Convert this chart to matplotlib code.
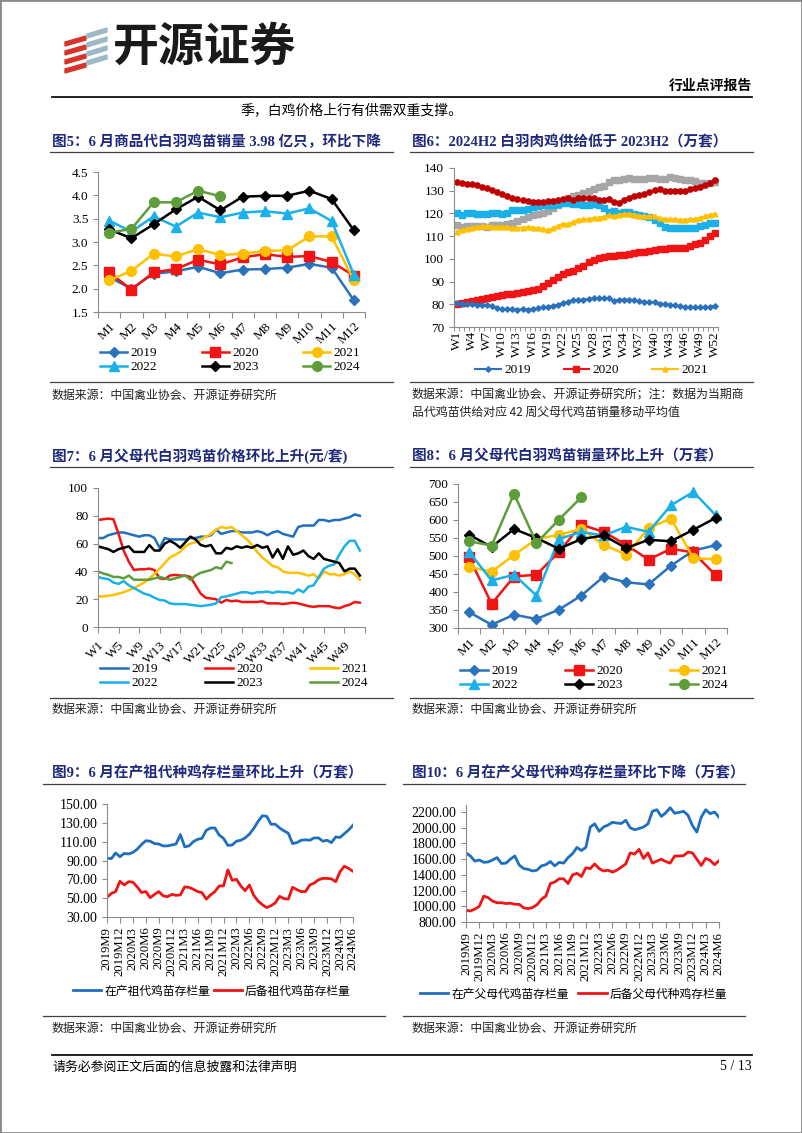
import matplotlib
matplotlib.use('Agg')
import matplotlib.pyplot as plt
from matplotlib.lines import Line2D
from matplotlib.patches import Rectangle, Polygon
from matplotlib.ticker import FormatStrFormatter
import numpy as np

W, H = 802, 1133
plt.rcParams['font.family'] = ['Liberation Serif', 'Noto Sans CJK SC', 'DejaVu Sans']
CJK = ['Noto Sans CJK SC', 'DejaVu Sans']
MIX = ['Liberation Serif', 'Noto Sans CJK SC']
NAVY = '#1F2A7C'
AXC = '#8C8C8C'

C19, C20, C21 = '#2A72BC', '#F01414', '#FFC000'
C22, C23, C24 = '#1AB0EA', '#000000', '#5E9E3A'

# ---------------- data ----------------
# fig5: commercial chick sales (亿只), monthly
months = ['M1', 'M2', 'M3', 'M4', 'M5', 'M6', 'M7', 'M8', 'M9', 'M10', 'M11', 'M12']
f5_2019 = [2.25, 2.0, 2.32, 2.37, 2.47, 2.33, 2.41, 2.42, 2.45, 2.53, 2.45, 1.75]
f5_2020 = [2.35, 1.98, 2.35, 2.42, 2.62, 2.52, 2.67, 2.74, 2.68, 2.70, 2.57, 2.28]
f5_2021 = [2.18, 2.38, 2.75, 2.69, 2.85, 2.72, 2.75, 2.81, 2.82, 3.12, 3.12, 2.18]
f5_2022 = [3.46, 3.22, 3.55, 3.33, 3.63, 3.53, 3.63, 3.66, 3.61, 3.72, 3.45, 2.30]
f5_2023 = [3.27, 3.08, 3.38, 3.70, 3.97, 3.68, 3.97, 3.99, 3.99, 4.10, 3.92, 3.25]
f5_2024 = [3.20, 3.28, 3.85, 3.85, 4.10, 3.98]

# fig6: weekly broiler supply (万套)
f6_2019 = [80.5, 80.2, 80.0, 80.0, 79.8, 79.6, 79.5, 79.3, 78.2, 77.9,
           77.8, 77.8, 77.7, 77.8, 77.7, 78.0, 78.2, 78.6, 79.0, 79.3,
           79.8, 80.5, 81.2, 81.8, 81.9, 82.1, 82.3, 82.6, 82.7, 82.6,
           82.6, 81.6, 81.9, 82.1, 82.0, 81.8, 81.3, 81.1, 81.0, 80.8,
           80.2, 80.1, 79.9, 79.5, 79.1, 78.8, 78.7, 78.6, 78.6, 78.6,
           79.0, 79.4]
f6_2020 = [80.0, 80.6, 81.2, 81.6, 81.9, 82.2, 82.7, 83.1, 83.5, 84.0,
           84.4, 84.6, 84.9, 85.3, 85.7, 86.2, 86.8, 87.9, 89.3, 90.8,
           91.8, 93.5, 94.4, 94.6, 95.9, 97.0, 98.4, 99.7, 100.4, 100.8,
           101.4, 101.2, 101.5, 101.9, 102.2, 102.5, 103.0, 103.2, 103.5, 104.0,
           104.4, 104.5, 104.7, 105.0, 104.9, 104.9, 105.8, 106.6, 107.1, 108.3,
           110.2, 111.6]
f6_2021 = [112.0, 112.6, 113.2, 113.7, 114.0, 114.3, 114.5, 114.2, 113.9, 114.1,
           113.9, 113.6, 113.6, 113.8, 114.0, 113.8, 113.4, 113.2, 112.6, 113.5,
           114.5, 115.5, 115.3, 116.3, 117.3, 117.4, 117.6, 118.0, 118.2, 118.5,
           119.3, 118.8, 119.4, 119.8, 119.9, 119.5, 119.0, 118.9, 118.7, 118.8,
           118.0, 117.6, 117.5, 117.5, 117.2, 117.3, 117.5, 117.6, 118.2, 118.8,
           119.5, 119.8]
f6_2022 = [120.0, 119.4, 120.4, 120.1, 119.8, 119.8, 119.8, 120.0, 120.0, 119.9,
           120.2, 121.3, 121.5, 121.6, 122.0, 122.8, 123.3, 123.6, 123.8, 123.7,
           124.0, 124.6, 124.4, 124.0, 124.0, 123.8, 123.9, 124.0, 123.8, 122.5,
           120.8, 121.2, 120.3, 120.7, 120.5, 119.8, 119.2, 118.7, 118.4, 117.2,
           115.9, 114.2, 113.5, 113.7, 113.6, 113.4, 113.5, 113.8, 114.5, 115.0,
           115.8, 115.8]
f6_2023 = [115.0, 114.0, 114.3, 114.6, 114.5, 114.4, 114.1, 114.9, 114.9, 114.7,
           115.4, 116.0, 116.8, 117.5, 118.3, 119.2, 119.7, 120.3, 121.0, 122.5,
           123.8, 125.5, 126.8, 127.6, 128.0, 128.8, 129.8, 130.8, 131.5, 132.0,
           134.0, 134.5, 134.6, 135.3, 135.4, 135.3, 135.2, 135.2, 135.4, 135.4,
           135.0, 135.1, 135.9, 135.8, 135.0, 134.6, 134.6, 134.2, 133.6, 133.3,
           133.3, 134.0]
f6_2024 = [133.8, 133.6, 132.8, 132.9, 132.3, 131.8, 131.0, 130.4, 129.6, 128.4,
           127.6, 127.0, 126.3, 125.8, 125.5, 124.9, 125.1, 124.9, 125.4, 125.6,
           125.8, 126.3, 127.0, 126.1, 126.9, 126.8, 126.6, 126.8, 126.0, 126.0,
           126.3, 125.0, 124.8, 126.0, 126.8, 127.8, 128.2, 128.5, 129.3, 130.5,
           130.6, 130.0, 130.0, 129.9, 130.0, 129.9, 130.9, 131.3, 131.8, 132.5,
           133.5, 134.5]
weeks6 = ['W%d' % w for w in range(1, 53, 3)]

# fig7: parent stock chick price (元/套), weekly
f7_2019 = [64, 64, 66, 67, 68, 68, 67, 66, 65, 66, 66, 64, 57,
           64, 63, 63, 63, 63, 64, 64, 65, 65, 66, 70,
           67, 68, 69, 69, 68, 68, 68, 69, 68, 66, 68, 69, 67, 66, 65,
           72, 73, 73, 73, 77, 77, 76, 77, 77, 78, 79, 81, 80]
f7_2020 = [77, 77.5, 78, 77.5, 67, 55, 47, 41, 41.5, 41.5,
           42, 41, 35, 34.5, 37, 37.5, 37, 37, 36, 30,
           24, 21, 20.5, 20, 17.5, 19.5, 18.5, 19, 18, 18,
           18, 18, 18.5, 17, 17, 17, 16.5, 17, 17.5, 17,
           16, 15, 14.5, 15, 15, 15, 14, 13.5, 15, 16,
           18, 17.5]
f7_2021 = [22, 22, 22.5, 23, 24, 25, 26.5, 28, 30, 32,
           35, 38, 42, 46, 50, 52, 54, 58, 60, 61,
           63, 65, 67, 70, 72, 71, 72, 69, 66, 63,
           59, 54, 50, 47, 44, 43, 40, 39, 39, 39,
           38, 37, 38, 35, 40, 38, 38, 37, 38, 40,
           38, 34]
f7_2022 = [36, 35, 34.5, 32, 31, 33, 30, 28, 26, 24,
           23, 21, 19.5, 19, 17, 16.5, 16.5, 16.5, 16, 15.5,
           15, 15.5, 16, 17, 21.5, 22, 23, 24, 25, 25,
           24, 25, 25, 25.5, 24.5, 25.5, 25, 25, 24, 27,
           25, 29, 30, 36, 42, 44, 45, 52, 58, 62,
           62, 55]
f7_2023 = [58, 57, 56, 54, 56, 57, 58, 54, 54, 54,
           59, 55, 55, 60, 62, 60, 57, 61, 65, 63,
           59, 58, 59, 53, 53, 57, 56, 58, 57, 58,
           57, 59, 57, 58, 50, 56, 49, 58, 52, 53,
           55, 51, 49, 53, 49, 48, 47, 46, 40, 42,
           42, 37]
f7_2024 = [40, 38.5, 37.5, 36, 36, 35, 37, 34, 34, 34,
           34, 35, 36, 35, 34, 35, 36, 37, 34, 37,
           39, 40, 41, 43, 42, 47, 46]
weeks7 = ['W%d' % w for w in range(1, 50, 4)]

# fig8: parent stock chick sales (万套), monthly
f8_2019 = [344, 309, 337, 325, 351, 390, 443, 427, 421, 473, 515, 530]
f8_2020 = [496, 367, 443, 448, 511, 587, 567, 531, 490, 520, 510, 446]
f8_2021 = [470, 456, 503, 547, 559, 575, 531, 504, 577, 604, 494, 491]
f8_2022 = [511, 432, 448, 390, 547, 567, 557, 581, 567, 641, 678, 613]
f8_2023 = [559, 525, 575, 550, 520, 547, 557, 522, 545, 541, 573, 606]
f8_2024 = [541, 529, 673, 536, 601, 663]

# fig9 / fig10: monthly inventory 2019M9 - 2024M6
inv_ticks = ['2019M9', '2019M12', '2020M3', '2020M6', '2020M9', '2020M12',
             '2021M3', '2021M6', '2021M9', '2021M12', '2022M3', '2022M6',
             '2022M9', '2022M12', '2023M3', '2023M6', '2023M9', '2023M12',
             '2024M3', '2024M6']
gp_prod = [92.5, 92, 98, 94, 97.5, 97, 98.5, 102, 107, 111,
           110.5, 108, 107.5, 105.5, 105.5, 106.5, 107.5, 117.5, 104.5, 105.5,
           110, 112.5, 113.5, 122, 124.5, 124.5, 117, 113.5, 106, 106.5,
           110.5, 111.5, 114, 118, 124, 131.5, 137.5, 137, 128.5, 128.5,
           124.5, 121.5, 119, 108, 109, 111.5, 112, 111.5, 114, 114,
           110.5, 111.5, 109, 115, 114.5, 118.5, 122.5, 127.5]
gp_back = [51, 55, 57, 68, 64, 67.5, 67, 62, 56, 57,
           50.5, 54, 57, 52.5, 51.5, 54, 53, 53.5, 62, 61.5,
           59.5, 57, 56, 49, 53.5, 57, 63, 63, 80, 69,
           70, 63, 58, 64, 53, 47, 43, 40, 42, 45,
           52, 49.5, 49, 61.5, 59, 57, 57, 64, 66, 69.5,
           71, 71, 70.5, 67.5, 78, 84, 81.5, 78.5]
ps_prod = [1680, 1640, 1575, 1590, 1560, 1565, 1590, 1620, 1545, 1550,
           1600, 1640, 1525, 1480, 1470, 1450, 1460, 1515, 1530, 1570,
           1515, 1560, 1550, 1620, 1670, 1750, 1710, 1750, 2010, 2050,
           1955, 2010, 2035, 2070, 2060, 2055, 2095, 2000, 1975, 1990,
           2010, 2050, 2210, 2230, 2145, 2190, 2255, 2185, 2195, 2210,
           2160, 2030, 1945, 2135, 2230, 2180, 2200, 2135]
ps_back = [950, 940, 965, 1000, 1130, 1110, 1065, 1045, 1045, 1035,
           1040, 1025, 1025, 980, 970, 985, 1020, 1090, 1130, 1290,
           1310, 1350, 1350, 1290, 1400, 1420, 1380, 1490, 1480, 1540,
           1480, 1450, 1460, 1435, 1460, 1500, 1540, 1680, 1665, 1725,
           1610, 1680, 1550, 1575, 1600, 1570, 1550, 1640, 1640, 1645,
           1690, 1680, 1600, 1520, 1610, 1585, 1530, 1580]

# ---------------- helpers ----------------
fig = plt.figure(figsize=(W / 100, H / 100), dpi=100)


def px_axes(l, t, r, b):
    return fig.add_axes([l / W, 1 - b / H, (r - l) / W, (b - t) / H])


def ftext(x, y, s, **kw):
    kw.setdefault('va', 'center')
    fig.text(x / W, 1 - y / H, s, **kw)


def hline(x0, x1, y, color='#404040', lw=0.9):
    fig.add_artist(Line2D([x0 / W, x1 / W], [1 - y / H, 1 - y / H], color=color, lw=lw))


def style(ax):
    for s in ['top', 'right']:
        ax.spines[s].set_visible(False)
    for s in ['left', 'bottom']:
        ax.spines[s].set_color(AXC)
        ax.spines[s].set_linewidth(0.8)
    ax.tick_params(colors=AXC, labelcolor='black', labelsize=9.5, length=3.5, width=0.8)


def year_legend(handles, x, y, colsp, hlen=2.05):
    fig.legend(handles, [h.get_label() for h in handles], loc='upper left',
               bbox_to_anchor=(x / W, 1 - y / H), ncol=3, frameon=False,
               borderpad=0, borderaxespad=0, handlelength=hlen, handletextpad=0.25,
               columnspacing=colsp, labelspacing=0.15,
               prop={'family': 'Liberation Serif', 'size': 9.5})


def title(x, y, s, ux0, ux1, uy):
    ftext(x, y, s, fontsize=10.5, fontweight='bold', color=NAVY, family=MIX)
    hline(ux0, ux1, uy)


def source(x, y, s):
    ftext(x, y, s, fontsize=8.6, family=CJK, color='#222222')


# ---------------- page furniture ----------------
fig.add_artist(Rectangle((0, 0), 1, 1, transform=fig.transFigure, fill=False,
                         edgecolor='#8A8A8A', lw=2))
# logo mark
for i in range(4):
    y0 = 36 + i * 9
    pts = [(65, y0 + 6), (86, y0), (86, y0 + 4), (65, y0 + 10)]
    fig.add_artist(Polygon([(px / W, 1 - py / H) for px, py in pts], closed=True,
                           color='#D8352A', transform=fig.transFigure))
for i in range(4):
    y0 = 28 + i * 9
    pts = [(87, y0 + 6), (107, y0), (107, y0 + 4), (87, y0 + 10)]
    fig.add_artist(Polygon([(px / W, 1 - py / H) for px, py in pts], closed=True,
                           color='#9DB8C6', transform=fig.transFigure))
ftext(112, 48, '开源证券', fontsize=33, fontweight='heavy', family=CJK, color='#1A1A1A')
ftext(752, 86, '行业点评报告', fontsize=10, fontweight='bold', family=CJK, ha='right')
hline(52, 752, 97, color='#111111', lw=1.3)
ftext(240, 110, '季，白鸡价格上行有供需双重支撑。', fontsize=10, family=CJK)
hline(52, 752, 1055, color='#111111', lw=1.3)
ftext(52, 1067, '请务必参阅正文后面的信息披露和法律声明', fontsize=9.3, family=CJK)
ftext(752, 1067, '5 / 13', fontsize=10, family='Liberation Serif', ha='right')

# ---------------- fig 5 ----------------
title(52, 142, '图5：6 月商品代白羽鸡苗销量 3.98 亿只，环比下降', 50, 393, 152)
ax = px_axes(98, 172, 365, 312)
style(ax)
hs = []
for vals, lab, c, m, ms in [(f5_2019, '2019', C19, 'D', 5), (f5_2020, '2020', C20, 's', 7),
                            (f5_2021, '2021', C21, 'o', 7), (f5_2022, '2022', C22, '^', 7),
                            (f5_2023, '2023', C23, 'D', 5.5), (f5_2024, '2024', C24, 'o', 7)]:
    h, = ax.plot(range(len(vals)), vals, color=c, marker=m, ms=ms, lw=1.8, label=lab)
    hs.append(h)
ax.set_xlim(-0.5, 11.5)
ax.set_ylim(1.5, 4.5)
ax.set_yticks(np.arange(1.5, 4.51, 0.5))
ax.yaxis.set_major_formatter(FormatStrFormatter('%.1f'))
ax.set_xticks(range(12))
ax.set_xticklabels(months, rotation=45, ha='right', rotation_mode='anchor')
ax.tick_params(axis='x', length=0, pad=6)
ax.set_xticks(np.arange(-0.5, 12, 1), minor=True)
ax.tick_params(axis='x', which='minor', length=4, color=AXC, width=0.8)
year_legend([hs[0], hs[3], hs[1], hs[4], hs[2], hs[5]], 100, 347, 3.4)
hline(50, 393, 382)
source(52, 395, '数据来源：中国禽业协会、开源证券研究所')

# ---------------- fig 6 ----------------
title(412, 142, '图6：2024H2 白羽肉鸡供给低于 2023H2（万套）', 410, 753, 152)
ax = px_axes(454, 168, 718, 327)
style(ax)
hs = []
for vals, lab, c, m, ms in [(f6_2023, '2023', '#A6A6A6', 's', 3.8), (f6_2022, '2022', C22, 's', 3.8),
                            (f6_2021, '2021', C21, '^', 3.5), (f6_2024, '2024', '#C00000', 'o', 3.8),
                            (f6_2020, '2020', C20, 's', 3.8), (f6_2019, '2019', C19, 'D', 2.8)]:
    h, = ax.plot(range(len(vals)), vals, color=c, marker=m, ms=ms, lw=1.5, label=lab)
    hs.append(h)
ax.set_xlim(-0.5, 51.5)
ax.set_ylim(70, 140)
ax.set_yticks(range(70, 141, 10))
ax.set_xticks(range(0, 52, 3))
ax.set_xticklabels(weeks6, rotation=90, ha='center', va='top')
ax.tick_params(axis='x', length=0, pad=3)
ax.set_xticks(np.arange(-0.5, 52, 1), minor=True)
ax.tick_params(axis='x', which='minor', length=3, color=AXC, width=0.7)
fig.legend([hs[5], hs[4], hs[2]], ['2019', '2020', '2021'], loc='upper left',
           bbox_to_anchor=(475 / W, 1 - 364 / H), ncol=3, frameon=False, borderpad=0,
           borderaxespad=0, handlelength=1.95, handletextpad=0.25, columnspacing=2.5,
           prop={'family': 'Liberation Serif', 'size': 9.5})
hline(410, 753, 382)
source(412, 395, '数据来源：中国禽业协会、开源证券研究所；注：数据为当期商')
source(412, 412, '品代鸡苗供给对应 42 周父母代鸡苗销量移动平均值')

# ---------------- fig 7 ----------------
title(52, 456, '图7：6 月父母代白羽鸡苗价格环比上升(元/套)', 50, 393, 467)
ax = px_axes(98, 488, 365, 627)
style(ax)
hs = []
for vals, lab, c in [(f7_2019, '2019', '#1F6FBF'), (f7_2020, '2020', C20),
                     (f7_2021, '2021', C21), (f7_2022, '2022', C22),
                     (f7_2023, '2023', C23), (f7_2024, '2024', C24)]:
    h, = ax.plot(range(len(vals)), vals, color=c, lw=1.8, label=lab)
    hs.append(h)
ax.set_xlim(0, 52)
ax.set_ylim(0, 100)
ax.set_yticks(range(0, 101, 20))
ax.set_xticks(range(0, 49, 4))
ax.set_xticklabels(weeks7, rotation=45, ha='right', rotation_mode='anchor')
ax.tick_params(axis='x', length=4, pad=5)
ax.set_xticks([52], minor=True)
ax.tick_params(axis='x', which='minor', length=4, color=AXC, width=0.8)
year_legend([hs[0], hs[3], hs[1], hs[4], hs[2], hs[5]], 100, 663, 3.6, hlen=2.1)
hline(50, 393, 698)
source(52, 709, '数据来源：中国禽业协会、开源证券研究所')

# ---------------- fig 8 ----------------
title(412, 456, '图8：6 月父母代白羽鸡苗销量环比上升（万套）', 410, 753, 467)
ax = px_axes(458, 484, 727, 628)
style(ax)
hs = []
for vals, lab, c, m, ms in [(f8_2019, '2019', C19, 'D', 5), (f8_2020, '2020', C20, 's', 7),
                            (f8_2021, '2021', C21, 'o', 7), (f8_2022, '2022', C22, '^', 7),
                            (f8_2023, '2023', C23, 'D', 5.5), (f8_2024, '2024', C24, 'o', 7)]:
    h, = ax.plot(range(len(vals)), vals, color=c, marker=m, ms=ms, lw=1.8, label=lab)
    hs.append(h)
ax.set_xlim(-0.5, 11.5)
ax.set_ylim(300, 700)
ax.set_yticks(range(300, 701, 50))
ax.set_xticks(range(12))
ax.set_xticklabels(months, rotation=45, ha='right', rotation_mode='anchor')
ax.tick_params(axis='x', length=0, pad=6)
ax.set_xticks(np.arange(-0.5, 12, 1), minor=True)
ax.tick_params(axis='x', which='minor', length=4, color=AXC, width=0.8)
year_legend([hs[0], hs[3], hs[1], hs[4], hs[2], hs[5]], 460, 665, 3.6, hlen=2.1)
hline(410, 753, 698)
source(412, 709, '数据来源：中国禽业协会、开源证券研究所')

# ---------------- fig 9 ----------------
title(52, 773, '图9：6 月在产祖代种鸡存栏量环比上升（万套）', 43, 385, 784)
ax = px_axes(107, 804, 353, 917)
style(ax)
h1, = ax.plot(range(len(gp_prod)), gp_prod, color='#1F6FBF', lw=2.0, label='在产祖代鸡苗存栏量')
h2, = ax.plot(range(len(gp_back)), gp_back, color=C20, lw=2.0, label='后备祖代鸡苗存栏量')
ax.set_xlim(0, 57)
ax.set_ylim(30, 150)
ax.set_yticks(range(30, 151, 20))
ax.yaxis.set_major_formatter(FormatStrFormatter('%.2f'))
ax.set_xticks(range(0, 58, 3))
ax.set_xticklabels(inv_ticks, rotation=90, ha='center', va='top')
ax.tick_params(axis='y', labelsize=10)
ax.tick_params(axis='x', length=4, pad=3, labelsize=9.2)
fig.legend([h1, h2], [h1.get_label(), h2.get_label()], loc='center left',
           bbox_to_anchor=(73 / W, 1 - 991 / H), ncol=2, frameon=False, borderpad=0,
           borderaxespad=0, handlelength=2.4, handletextpad=0.25, columnspacing=0.3,
           prop={'family': CJK, 'size': 8.5})
hline(43, 385, 1016)
source(52, 1028, '数据来源：中国禽业协会、开源证券研究所')

# ---------------- fig 10 ----------------
title(412, 773, '图10：6 月在产父母代种鸡存栏量环比下降（万套）', 403, 745, 784)
ax = px_axes(466, 805, 719, 922)
style(ax)
h1, = ax.plot(range(len(ps_prod)), ps_prod, color='#1F6FBF', lw=2.0, label='在产父母代鸡苗存栏量')
h2, = ax.plot(range(len(ps_back)), ps_back, color=C20, lw=2.0, label='后备父母代种鸡存栏量')
ax.set_xlim(0, 57)
ax.set_ylim(800, 2290)
ax.set_yticks(range(800, 2201, 200))
ax.yaxis.set_major_formatter(FormatStrFormatter('%.2f'))
ax.set_xticks(range(0, 58, 3))
ax.set_xticklabels(inv_ticks, rotation=90, ha='center', va='top')
ax.tick_params(axis='y', labelsize=10)
ax.tick_params(axis='x', length=4, pad=3, labelsize=9.2)
fig.legend([h1, h2], [h1.get_label(), h2.get_label()], loc='center left',
           bbox_to_anchor=(420 / W, 1 - 994 / H), ncol=2, frameon=False, borderpad=0,
           borderaxespad=0, handlelength=2.4, handletextpad=0.25, columnspacing=0.8,
           prop={'family': CJK, 'size': 8.5})
hline(403, 745, 1016)
source(412, 1028, '数据来源：中国禽业协会、开源证券研究所')

fig.savefig('out.png', dpi=100)
